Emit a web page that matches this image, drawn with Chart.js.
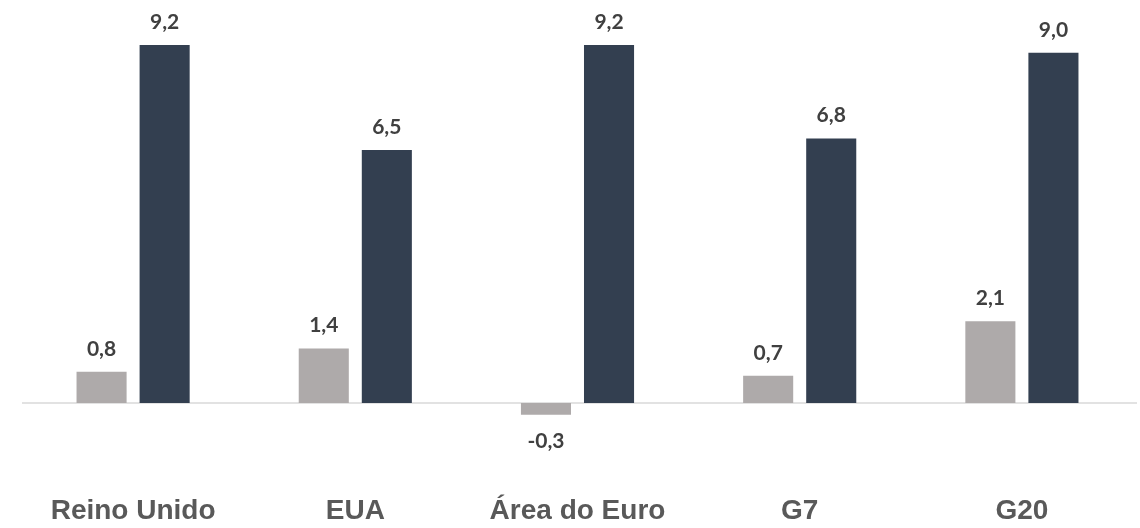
<!DOCTYPE html>
<html>
<head>
<meta charset="utf-8">
<script src="https://cdn.jsdelivr.net/npm/chart.js@4/dist/chart.umd.min.js"></script>
<style>
  html, body { margin: 0; padding: 0; background: #fff; overflow: hidden; }
  #wrap { width: 1140px; height: 542px; }
</style>
</head>
<body>
<div id="wrap"><canvas id="chart"></canvas></div>
<script>
const categories = ['Reino Unido', 'EUA', 'Área do Euro', 'G7', 'G20'];
const seriesA = [0.8, 1.4, -0.3, 0.7, 2.1];
const seriesB = [9.2, 6.5, 9.2, 6.8, 9.0];

const fmt = v => v.toFixed(1).replace('.', ',');

// draws the value labels and the zero line
const labelsPlugin = {
  id: 'valueLabels',
  beforeDatasetsDraw(chart) {
    const { ctx, chartArea, scales } = chart;
    const y0 = scales.y.getPixelForValue(0);
    ctx.save();
    ctx.strokeStyle = '#d9d9d9';
    ctx.lineWidth = 1.5;
    ctx.beginPath();
    ctx.moveTo(chartArea.left, y0);
    ctx.lineTo(chartArea.right + 4, y0);
    ctx.stroke();
    ctx.restore();
  },
  afterDatasetsDraw(chart) {
    const { ctx } = chart;
    ctx.save();
    ctx.font = 'bold 21px Lato, "Open Sans", sans-serif';
    ctx.fillStyle = '#404040';
    ctx.textAlign = 'center';
    ctx.textBaseline = 'middle';
    chart.data.datasets.forEach((ds, i) => {
      chart.getDatasetMeta(i).data.forEach((bar, j) => {
        const v = ds.data[j];
        const y = v >= 0 ? bar.y - 23 : bar.y + 27;
        ctx.fillText(fmt(v), bar.x, y);
      });
    });
    ctx.restore();
  }
};

new Chart(document.getElementById('chart'), {
  type: 'bar',
  data: {
    labels: categories,
    datasets: [
      { data: seriesA, backgroundColor: '#aeaaaa' },
      { data: seriesB, backgroundColor: '#333f50' }
    ]
  },
  options: {
    responsive: true,
    maintainAspectRatio: false,
    animation: false,
    layout: { padding: { left: 22, right: 7, top: 0, bottom: 0 } },
    datasets: { bar: { categoryPercentage: 0.5676, barPercentage: 0.794 } },
    plugins: { legend: { display: false }, tooltip: { enabled: false } },
    scales: {
      x: {
        grid: { display: false, drawTicks: false },
        border: { display: false },
        ticks: {
          color: '#595959',
          padding: 14,
          font: { family: '"Liberation Sans", Arial, sans-serif', size: 28, weight: 'bold' }
        }
      },
      y: {
        display: false,
        min: -1.99,
        max: 10.357
      }
    }
  },
  plugins: [labelsPlugin]
});
</script>
</body>
</html>
